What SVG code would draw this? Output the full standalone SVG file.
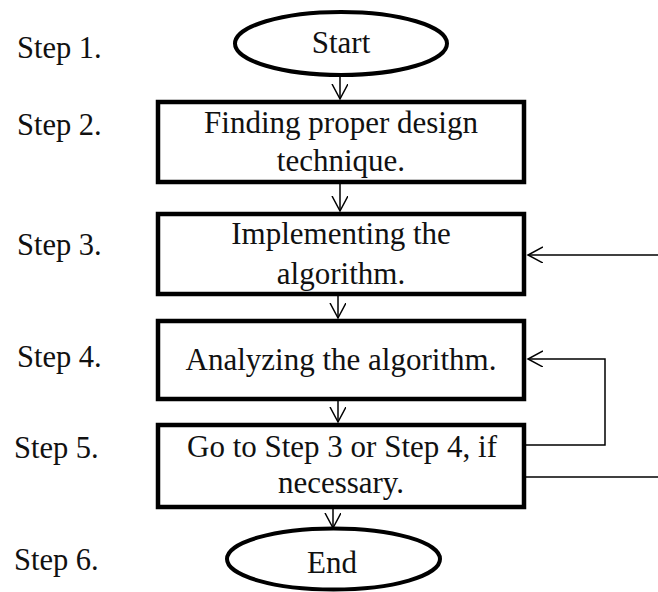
<svg xmlns="http://www.w3.org/2000/svg" width="658" height="592" viewBox="0 0 658 592">
  <style>
    .box { fill: #fff; stroke: #000; stroke-width: 4.5; }
    .term { fill: #fff; stroke: #000; stroke-width: 4; }
    .t { font-family: "Liberation Serif", "Times New Roman", serif; font-size: 31px; fill: #111; text-anchor: middle; }
    .step { font-family: "Liberation Serif", "Times New Roman", serif; font-size: 30.5px; fill: #111; }
    .c { fill: none; stroke: #000; stroke-width: 1.5; }
  </style>
  <defs>
    <marker id="v" markerUnits="userSpaceOnUse" markerWidth="20" markerHeight="20" refX="15" refY="8" orient="auto">
      <path d="M0,0 L15,8 L0,16" fill="none" stroke="#000" stroke-width="1.5"/>
    </marker>
  </defs>
  <rect width="658" height="592" fill="#fff"/>

  <g id="labels">
    <text class="step" x="17" y="58">Step 1.</text>
    <text class="step" x="17" y="135">Step 2.</text>
    <text class="step" x="17" y="255">Step 3.</text>
    <text class="step" x="17" y="367">Step 4.</text>
    <text class="step" x="14" y="458">Step 5.</text>
    <text class="step" x="14" y="570">Step 6.</text>
  </g>

  <g id="connectors">
    <line class="c" x1="340" y1="76" x2="340" y2="99" marker-end="url(#v)"/>
    <line class="c" x1="340" y1="184" x2="340" y2="211" marker-end="url(#v)"/>
    <line class="c" x1="338" y1="296" x2="338" y2="318" marker-end="url(#v)"/>
    <line class="c" x1="338" y1="401" x2="338" y2="422" marker-end="url(#v)"/>
    <line class="c" x1="333" y1="509" x2="333" y2="528" marker-end="url(#v)"/>
    <polyline class="c" points="526,445 605,445 605,359 528,359" marker-end="url(#v)"/>
    <line class="c" x1="526" y1="477" x2="658" y2="477"/>
    <line class="c" x1="658" y1="255" x2="528" y2="255" marker-end="url(#v)"/>
  </g>

  <g id="start">
    <ellipse class="term" cx="341" cy="43.5" rx="106" ry="31.5"/>
    <text class="t" x="341" y="53">Start</text>
  </g>
  <g id="step2">
    <rect class="box" x="158" y="102" width="366" height="80"/>
    <text class="t" x="341" y="133">Finding proper design</text>
    <text class="t" x="341" y="171">technique.</text>
  </g>
  <g id="step3">
    <rect class="box" x="158" y="214" width="366" height="80"/>
    <text class="t" x="341" y="244">Implementing the</text>
    <text class="t" x="341" y="284">algorithm.</text>
  </g>
  <g id="step4">
    <rect class="box" x="158" y="321" width="366" height="78"/>
    <text class="t" x="341" y="370">Analyzing the algorithm.</text>
  </g>
  <g id="step5">
    <rect class="box" x="158" y="425" width="366" height="82"/>
    <text class="t" x="342" y="457">Go to Step 3 or Step 4, if</text>
    <text class="t" x="341" y="493">necessary.</text>
  </g>
  <g id="end">
    <ellipse class="term" cx="333.5" cy="559" rx="106.5" ry="30.5"/>
    <text class="t" x="332" y="573">End</text>
  </g>
</svg>
